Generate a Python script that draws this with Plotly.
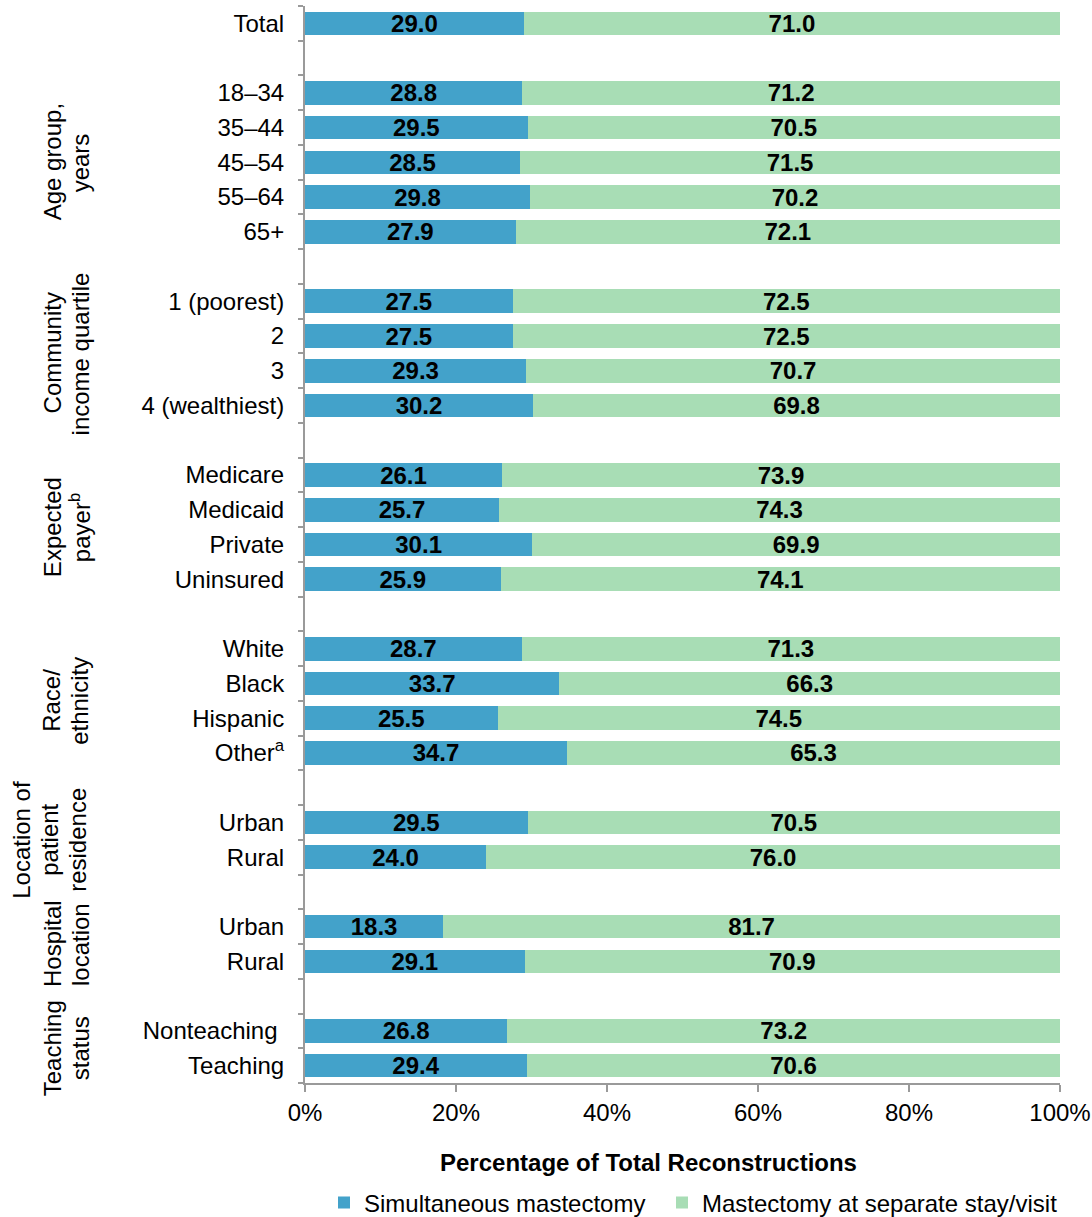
import plotly.graph_objects as go

# ---- data ----
group_titles = [[], ["Age group,", "years"], ["Community", "income quartile"],
                ["Expected", "payer<sup>b</sup>"], ["Race/", "ethnicity"],
                ["Location of", "patient", "residence"], ["Hospital", "location"],
                ["Teaching", "status"]]
group_sizes = [1, 5, 4, 4, 4, 2, 2, 2]
labels = ["Total",
          "18–34", "35–44", "45–54", "55–64", "65+",
          "1 (poorest)", "2", "3", "4 (wealthiest)",
          "Medicare", "Medicaid", "Private", "Uninsured",
          "White", "Black", "Hispanic", "Other<sup>a</sup>",
          "Urban", "Rural",
          "Urban", "Rural",
          "Nonteaching ", "Teaching"]
simultaneous = [29.0,
                28.8, 29.5, 28.5, 29.8, 27.9,
                27.5, 27.5, 29.3, 30.2,
                26.1, 25.7, 30.1, 25.9,
                28.7, 33.7, 25.5, 34.7,
                29.5, 24.0,
                18.3, 29.1,
                26.8, 29.4]
separate = [71.0,
            71.2, 70.5, 71.5, 70.2, 72.1,
            72.5, 72.5, 70.7, 69.8,
            73.9, 74.3, 69.9, 74.1,
            71.3, 66.3, 74.5, 65.3,
            70.5, 76.0,
            81.7, 70.9,
            73.2, 70.6]

# ---- slot positions (blank slot between groups) ----
positions = []
group_centers = []
slot = 0
for gi, n in enumerate(group_sizes):
    if gi > 0:
        slot += 1
    start = slot
    for _ in range(n):
        positions.append(slot)
        slot += 1
    group_centers.append((start + slot - 1) / 2)
n_slots = slot

BLUE = "#43a2ca"
GREEN = "#a8ddb5"
AXIS = "#9a9a9a"
FONT = "Liberation Sans, Arial, sans-serif"

fig = go.Figure()
fig.add_trace(go.Bar(
    y=positions, x=simultaneous, orientation="h", name="Simultaneous mastectomy",
    marker=dict(color=BLUE, line=dict(width=0)),
    text=[f"{v:.1f}" for v in simultaneous], textposition="inside",
    insidetextanchor="middle", textangle=0,
    textfont=dict(family=FONT, size=24, color="black", weight="bold"),
    hoverinfo="skip", legend="legend"))
fig.add_trace(go.Bar(
    y=positions, x=separate, orientation="h", name="Mastectomy at separate stay/visit",
    marker=dict(color=GREEN, line=dict(width=0)),
    text=[f"{v:.1f}" for v in separate], textposition="inside",
    insidetextanchor="middle", textangle=0,
    textfont=dict(family=FONT, size=24, color="black", weight="bold"),
    hoverinfo="skip", legend="legend2"))

W, H = 1092, 1217
ml, mr, mt, mb = 305, 32, 6, 134
pw = W - ml - mr
ph = H - mt - mb

def px_to_paper_x(px):
    return (px - ml) / pw

def px_to_paper_y(py):
    return 1 - (py - mt) / ph

annotations = []
LINE_SP = 28
for lines, c in zip(group_titles, group_centers):
    if not lines:
        continue
    k = len(lines)
    center = 66 if k == 2 else 50
    for j, line in enumerate(lines):
        cx = center + (j - (k - 1) / 2) * LINE_SP
        annotations.append(dict(
            text=line, x=px_to_paper_x(cx), xref="paper", y=c, yref="y",
            xanchor="center", yanchor="middle", textangle=-90, showarrow=False,
            font=dict(family=FONT, size=24, color="black")))

annotations.append(dict(
    text="<b>Percentage of Total Reconstructions</b>", x=px_to_paper_x(648), xref="paper",
    y=px_to_paper_y(1162), yref="paper", xanchor="center", yanchor="middle",
    showarrow=False, font=dict(family=FONT, size=24, color="black")))

legend_common = dict(orientation="h", yanchor="middle", y=px_to_paper_y(1203),
                     xanchor="left", itemwidth=30,
                     font=dict(family=FONT, size=24, color="black"),
                     itemclick=False, itemdoubleclick=False,
                     bgcolor="rgba(0,0,0,0)")

fig.update_layout(
    barmode="stack", bargap=0.32,
    width=W, height=H,
    margin=dict(l=ml, r=mr, t=mt, b=mb, pad=0, autoexpand=False),
    paper_bgcolor="white", plot_bgcolor="white",
    font=dict(family=FONT, size=24, color="black"),
    uniformtext=dict(minsize=24, mode="show"),
    showlegend=True,
    legend=dict(x=px_to_paper_x(324), **legend_common),
    legend2=dict(x=px_to_paper_x(662), **legend_common),
    annotations=annotations,
)
fig.update_yaxes(
    range=[n_slots - 0.5, -0.5], tickmode="array", tickvals=positions, ticktext=labels,
    ticks="outside", ticklen=14, tickcolor="rgba(0,0,0,0)",
    showline=True, linecolor=AXIS, linewidth=2, showgrid=False, zeroline=False,
    tickfont=dict(family=FONT, size=24, color="black"),
    minor=dict(tickmode="array", tickvals=[i - 0.5 for i in range(n_slots + 1)],
               ticks="outside", ticklen=5, tickcolor=AXIS, tickwidth=2, showgrid=False),
)
fig.update_xaxes(
    range=[0, 100], tickmode="array", tickvals=[0, 20, 40, 60, 80, 100],
    ticktext=["0%", "20%", "40%", "60%", "80%", "100%"],
    ticks="outside", ticklen=7, tickcolor=AXIS, tickwidth=2,
    showline=True, linecolor=AXIS, linewidth=2, showgrid=False, zeroline=False,
    tickfont=dict(family=FONT, size=24, color="black"),
)

fig.write_html("out.html")
